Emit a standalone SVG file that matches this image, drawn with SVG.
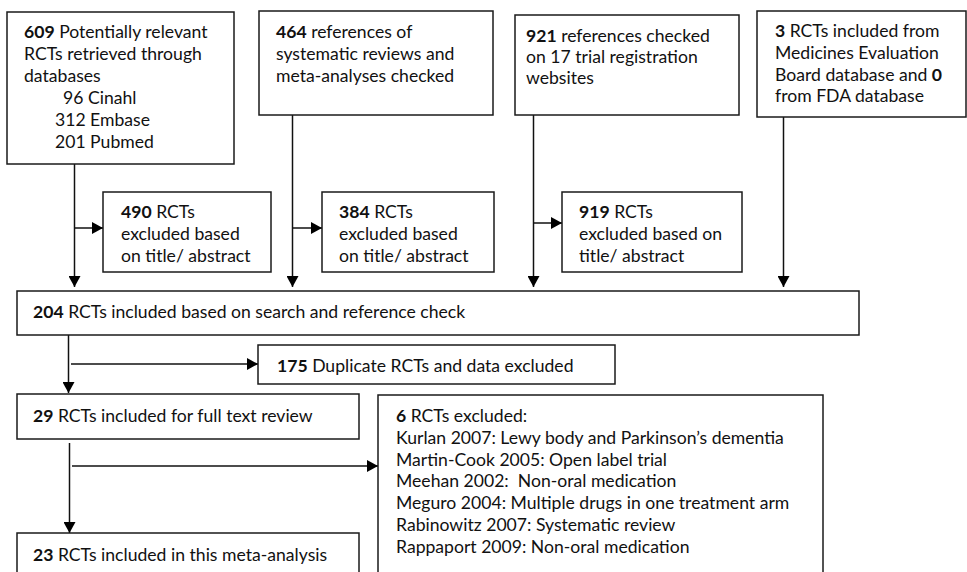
<svg xmlns="http://www.w3.org/2000/svg" width="967" height="572" viewBox="0 0 967 572">
<style>
.box{fill:#fff;stroke:#1a1a1a;stroke-width:1.5}
.t{font-family:Lato,"Liberation Sans",sans-serif;font-size:17.6px;fill:#111}
.b{font-weight:bold}
.ln{fill:none;stroke:#111;stroke-width:1.5}
</style>
<defs>
<marker id="ah" markerUnits="userSpaceOnUse" markerWidth="12" markerHeight="12" refX="11" refY="6" orient="auto">
<path d="M0,0 L11,6 L0,12 z" fill="#000"/>
</marker>
</defs>
<rect width="967" height="572" fill="#fff"/>
<g id="connectors">
<path class="ln" d="M74.5,164 V287" marker-end="url(#ah)"/>
<path class="ln" d="M74.5,228 H103" marker-end="url(#ah)"/>
<path class="ln" d="M292.5,115 V287" marker-end="url(#ah)"/>
<path class="ln" d="M292.5,228 H322" marker-end="url(#ah)"/>
<path class="ln" d="M533.5,115 V287" marker-end="url(#ah)"/>
<path class="ln" d="M533.5,223 H562" marker-end="url(#ah)"/>
<path class="ln" d="M783.5,117 V287" marker-end="url(#ah)"/>
<path class="ln" d="M68.5,335 V393" marker-end="url(#ah)"/>
<path class="ln" d="M71,364 H258" marker-end="url(#ah)"/>
<path class="ln" d="M69.5,443 V533" marker-end="url(#ah)"/>
<path class="ln" d="M72,466 H378" marker-end="url(#ah)"/>
</g>
<g id="n609">
<rect class="box" x="7" y="12" width="227" height="152"/>
<text class="t" x="24" y="38"><tspan class="b">609</tspan> Potentially relevant</text>
<text class="t" x="24" y="60">RCTs retrieved through</text>
<text class="t" x="24" y="82">databases</text>
<text class="t" x="63" y="104">96 Cinahl</text>
<text class="t" x="55" y="126">312 Embase</text>
<text class="t" x="55" y="148">201 Pubmed</text>
</g>
<g id="n464">
<rect class="box" x="259" y="11" width="234" height="104"/>
<text class="t" x="276" y="38"><tspan class="b">464</tspan> references of</text>
<text class="t" x="276" y="60">systematic reviews and</text>
<text class="t" x="276" y="82">meta-analyses checked</text>
</g>
<g id="n921">
<rect class="box" x="515" y="15" width="224" height="100"/>
<text class="t" x="526" y="42"><tspan class="b">921</tspan> references checked</text>
<text class="t" x="526" y="63">on 17 trial registration</text>
<text class="t" x="526" y="84">websites</text>
</g>
<g id="n3">
<rect class="box" x="757" y="11" width="209" height="106"/>
<text class="t" x="775" y="37"><tspan class="b">3</tspan> RCTs included from</text>
<text class="t" x="775" y="59">Medicines Evaluation</text>
<text class="t" x="775" y="81">Board database and <tspan class="b">0</tspan></text>
<text class="t" x="775" y="102">from FDA database</text>
</g>
<g id="n490">
<rect class="box" x="103" y="192" width="168" height="80"/>
<text class="t" x="121" y="218"><tspan class="b">490</tspan> RCTs</text>
<text class="t" x="121" y="240">excluded based</text>
<text class="t" x="121" y="262">on title/ abstract</text>
</g>
<g id="n384">
<rect class="box" x="322" y="192" width="172" height="80"/>
<text class="t" x="339" y="218"><tspan class="b">384</tspan> RCTs</text>
<text class="t" x="339" y="240">excluded based</text>
<text class="t" x="339" y="262">on title/ abstract</text>
</g>
<g id="n919">
<rect class="box" x="562" y="192" width="180" height="80"/>
<text class="t" x="579" y="218"><tspan class="b">919</tspan> RCTs</text>
<text class="t" x="579" y="240">excluded based on</text>
<text class="t" x="579" y="262">title/ abstract</text>
</g>
<g id="n204">
<rect class="box" x="17" y="291" width="842" height="44"/>
<text class="t" x="33" y="318"><tspan class="b">204</tspan> RCTs included based on search and reference check</text>
</g>
<g id="n175">
<rect class="box" x="258" y="345" width="357" height="39"/>
<text class="t" x="277" y="372"><tspan class="b">175</tspan> Duplicate RCTs and data excluded</text>
</g>
<g id="n29">
<rect class="box" x="17" y="394" width="342" height="45"/>
<text class="t" x="33" y="422"><tspan class="b">29</tspan> RCTs included for full text review</text>
</g>
<g id="n6">
<rect class="box" x="378" y="395" width="445" height="190"/>
<text class="t" x="396" y="422"><tspan class="b">6</tspan> RCTs excluded:</text>
<text class="t" x="396" y="444">Kurlan 2007: Lewy body and Parkinson’s dementia</text>
<text class="t" x="396" y="466">Martin-Cook 2005: Open label trial</text>
<text class="t" x="396" y="487" xml:space="preserve">Meehan 2002:  Non-oral medication</text>
<text class="t" x="396" y="509">Meguro 2004: Multiple drugs in one treatment arm</text>
<text class="t" x="396" y="531">Rabinowitz 2007: Systematic review</text>
<text class="t" x="396" y="553">Rappaport 2009: Non-oral medication</text>
</g>
<g id="n23">
<rect class="box" x="17" y="533" width="342" height="50"/>
<text class="t" x="33" y="561"><tspan class="b">23</tspan> RCTs included in this meta-analysis</text>
</g>
</svg>
